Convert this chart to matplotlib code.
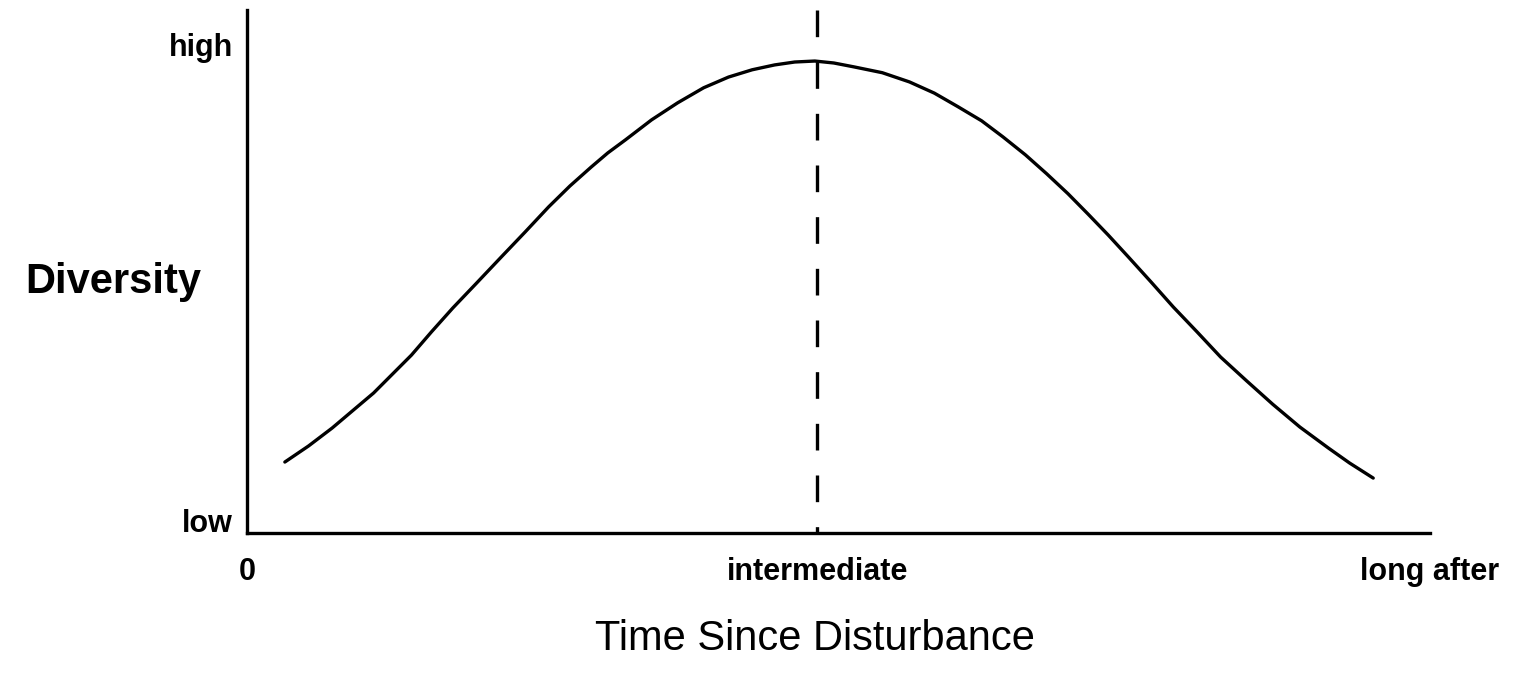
import matplotlib.pyplot as plt

plt.rcParams['font.family'] = ['Liberation Sans', 'DejaVu Sans']

# curve (time since disturbance 0-100, diversity 0-100)
time = [3.2, 5.2, 7.2, 8.9, 10.7, 12.3, 13.9, 15.6, 17.4, 19.4, 21.5, 23.5, 25.5,
        27.3, 29.1, 30.5, 32.0, 34.2, 36.4, 38.6, 40.7, 42.7, 44.6, 46.3, 48.0,
        49.6, 51.3, 53.7, 56.0, 58.1, 60.1, 62.1, 63.9, 65.8, 67.6, 69.4, 71.1,
        72.8, 74.5, 76.4, 78.3, 80.3, 82.3, 84.5, 86.7, 89.0, 91.4, 93.2, 95.2]
diversity = [14.6, 17.9, 21.6, 25.1, 28.8, 32.7, 36.6, 41.4, 46.3, 51.4, 56.8, 61.9, 67.1,
             71.4, 75.3, 78.2, 80.9, 85.0, 88.5, 91.6, 93.8, 95.3, 96.3, 96.9, 97.1,
             96.7, 95.9, 94.7, 92.8, 90.5, 87.7, 84.8, 81.5, 77.8, 73.9, 69.8, 65.6,
             61.3, 56.8, 51.7, 46.5, 41.4, 36.2, 31.3, 26.5, 21.8, 17.5, 14.4, 11.3]

peak_time = 48.2
x_ticks = [0, 48.2, 100]
x_tick_labels = ['0', 'intermediate', 'long after']
y_ticks = [2.5, 100.5]
y_tick_labels = ['low', 'high']

fig = plt.figure(figsize=(15.24, 6.73), dpi=100)
ax = fig.add_axes([247 / 1524, 140 / 673, 1183 / 1524, 523 / 673])

ax.plot(time, diversity, color='black', lw=2.4, solid_capstyle='round',
        solid_joinstyle='round')
# dashed marker at the intermediate time, drawn top-down
ax.plot([peak_time, peak_time], [107.6, 0], color='black', lw=2.4,
        linestyle=(0, (8, 7.5)))

ax.set_xlim(0, 100)
ax.set_ylim(0, 107.6)

for side in ['top', 'right']:
    ax.spines[side].set_visible(False)
for side in ['left', 'bottom']:
    ax.spines[side].set_linewidth(2.4)

ax.set_xticks(x_ticks)
ax.set_xticklabels(x_tick_labels, fontsize=22, fontweight='bold')
ax.set_yticks(y_ticks)
ax.set_yticklabels(y_tick_labels, fontsize=22, fontweight='bold')
ax.tick_params(axis='x', length=0, pad=17)
ax.tick_params(axis='y', length=0, pad=10)

ax.set_xlabel('Time Since Disturbance', fontsize=30)
ax.xaxis.set_label_coords(0.48, -0.203)
ax.xaxis.label.set_va('center')
ax.set_ylabel('Diversity', fontsize=30, fontweight='bold', rotation=0)
ax.yaxis.set_label_coords(-0.113, 0.48)
ax.yaxis.label.set_va('center')
ax.yaxis.label.set_ha('center')

fig.savefig('out.png', dpi=100)
